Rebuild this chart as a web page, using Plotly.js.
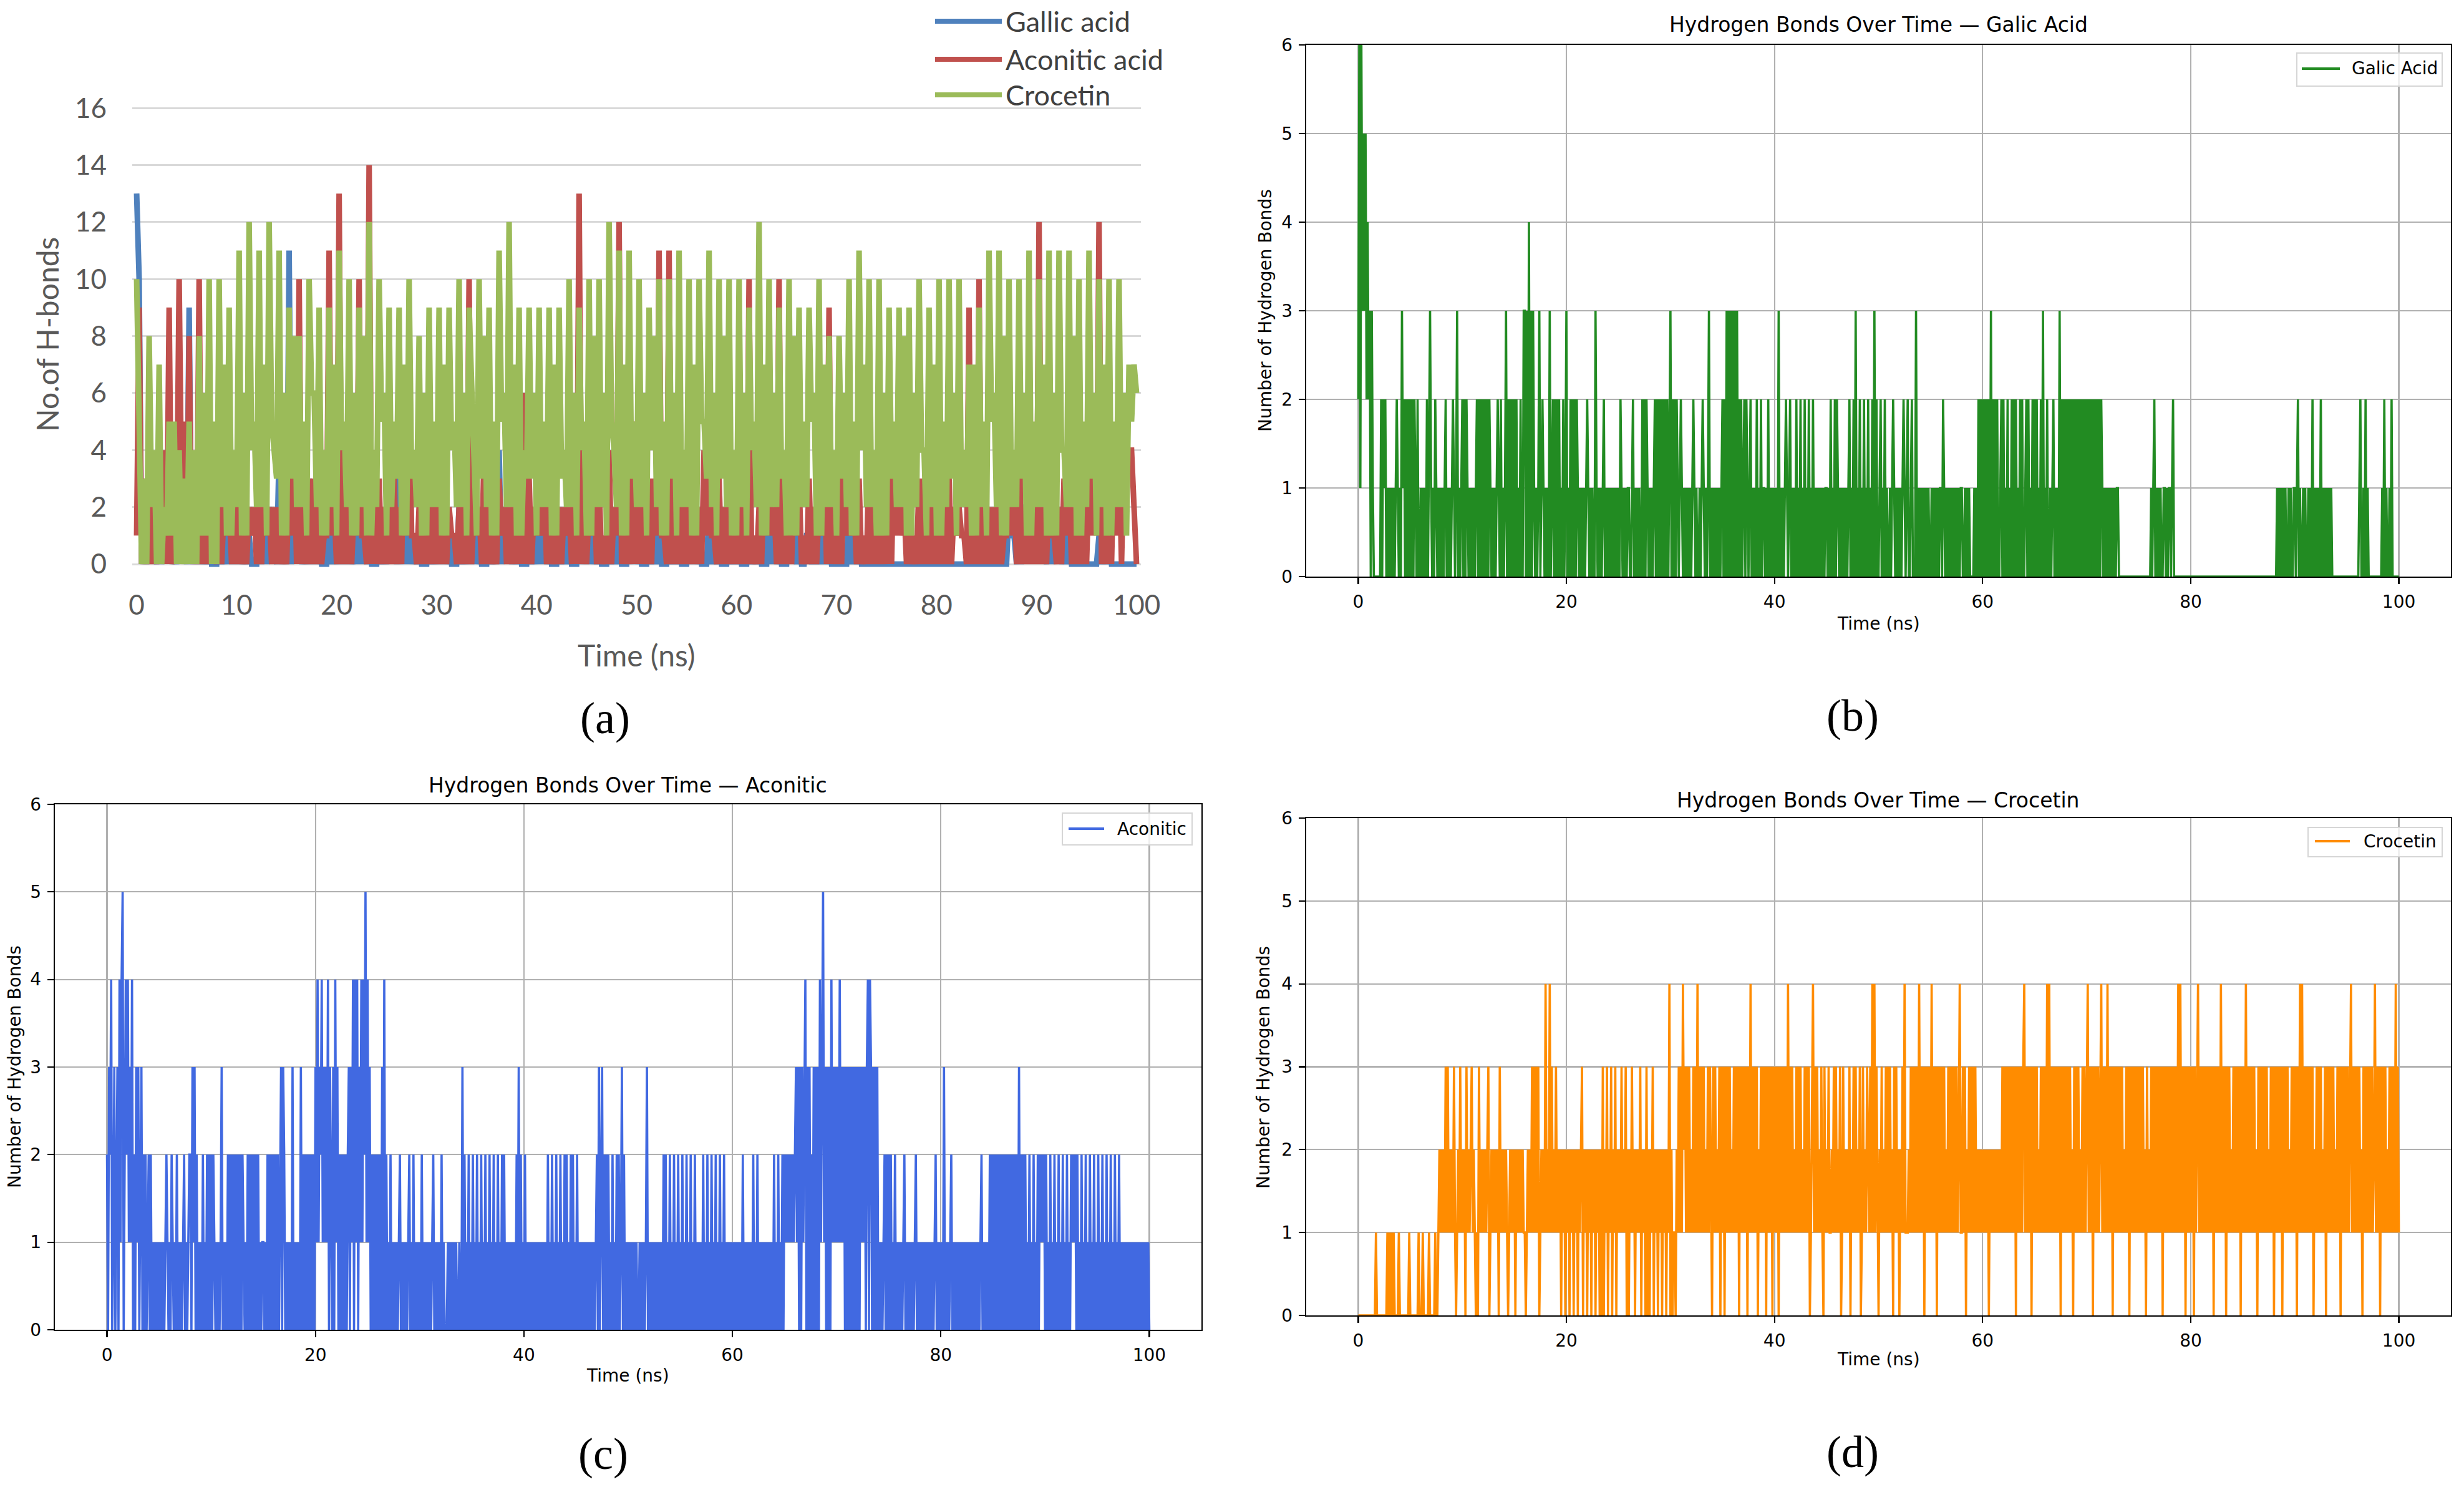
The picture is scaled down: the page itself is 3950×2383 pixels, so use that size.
<!DOCTYPE html>
<html><head><meta charset="utf-8">
<script src="https://cdn.plot.ly/plotly-3.0.1.min.js"></script>
<style>html,body{margin:0;padding:0;background:#fff}</style>
</head><body>
<div id="chart" style="width:3950px;height:2383px"></div>
<script>
// ---------------- DATA ----------------
// Panel (a): Excel line chart. Per ns k: peak at k+0.25, low at k+0.5, mid at k+0.75, trough at k+1
const aTickLabels = [0,10,20,30,40,50,60,70,80,90,100];
const aYTicks = [0,2,4,6,8,10,12,14,16];

const aGallicStart = 13;
const aGallicPeaks = [10,3,2,4,2,9,3,1,2,3, 2,1,3,2,4,11,2,3,1,2, 3,2,4,1,2,3,5,2,1,2, 3,1,2,3,1,2,4,2,1,2, 3,1,2,1,3,2,1,2,1,3, 1,2,1,2,1,3,1,2,1,2, 1,2,1,3,1,2,1,1,2,1, 1,2,1,0,0,0,0,0,0,0, 0,0,0,0,0,0,0,2,2,4, 2,2,2,1,0,0,1,1,0,0];
const aGallicLows = [0,1,0,0,1,0,0,0,0,0, 0,0,0,1,0,0,0,0,0,0, 0,0,0,0,0,1,0,0,0,0, 0,0,0,0,0,0,0,0,0,0, 0,0,0,0,0,0,0,0,0,0, 0,0,0,0,0,0,0,0,0,0, 0,0,0,0,0,1,0,0,0,0, 0,0,0,0,0,0,0,0,0,0, 0,0,0,0,0,0,0,1,0,2, 1,0,0,0,0,0,0,0,0,0];
const aGallicMids = [2,1,2,1,2,3,1,0,1,2, 1,0,2,1,2,3,1,2,0,1, 2,1,2,0,1,2,3,1,0,1, 2,0,1,2,0,1,2,1,0,1, 2,0,1,0,2,1,0,1,0,2, 0,1,0,1,0,2,0,1,0,1, 0,1,0,2,0,1,0,1,1,0, 0,1,0,0,0,0,0,0,0,0, 0,0,0,0,0,0,0,1,2,2, 1,2,1,0,0,0,1,0,0,0];
const aGallicTroughs = [0,0,1,0,0,0,0,0,0,0, 0,0,0,0,0,1,0,0,0,0, 0,0,0,0,0,0,0,0,0,0, 0,0,0,0,0,0,1,0,0,0, 0,0,0,0,0,0,0,0,0,0, 0,0,0,0,0,0,0,0,0,0, 0,0,0,0,0,0,1,0,0,0, 0,0,0,0,0,0,0,0,0,0, 0,0,0,0,0,0,0,0,2,1, 0,1,0,0,0,0,0,0,0,0];

const aAconiticStart = 1;
const aAconiticPeaks = [9,4,3,9,10,8,10,3,6,2, 3,2,5,2,2,3,10,3,2,11, 13,2,10,14,3,2,2,7,2,2, 3,2,2,10,2,3,3,2,6,3, 2,3,2,2,13,2,3,4,12,3, 7,3,11,11,3,3,2,6,3,2, 3,10,2,3,10,2,3,3,2,9, 3,2,3,4,3,5,3,2,3,3, 2,3,2,9,10,2,3,3,6,2, 12,3,2,3,4,3,12,4,4,4];
const aAconiticLows = [0,0,1,0,2,0,0,1,0,0, 0,1,0,0,0,1,0,0,0,1, 0,0,1,0,0,0,0,1,0,0, 0,1,0,0,0,0,1,0,0,0, 1,0,0,0,0,1,0,0,0,0, 0,0,1,0,0,0,0,1,0,0, 0,0,0,1,0,0,0,0,1,0, 0,1,0,0,0,0,1,0,0,0, 0,0,1,0,0,0,0,1,0,0, 0,1,0,0,0,1,0,0,0,4];
const aAconiticMids = [3,2,4,1,5,2,3,1,2,3, 1,2,3,2,1,4,2,3,1,2, 3,2,1,4,2,3,5,1,2,3, 2,1,3,2,4,1,2,3,6,2, 3,1,2,4,2,3,1,2,3,5, 2,3,1,2,3,2,4,1,2,3, 2,1,3,2,2,3,1,2,4,2, 3,2,1,3,2,4,2,1,3,2, 3,2,1,2,3,2,1,3,2,3, 2,1,3,2,3,4,2,4,4,2];
const aAconiticTroughs = [0,0,0,1,0,0,0,0,1,0, 0,0,1,0,0,0,0,0,1,0, 0,1,0,0,0,0,1,0,0,0, 0,0,0,1,0,0,0,0,0,1, 0,0,1,0,0,0,0,1,0,0, 0,1,0,0,0,0,1,0,0,0, 0,0,1,0,0,1,0,0,0,0, 1,0,0,0,0,1,0,0,0,0, 0,1,0,0,0,0,1,0,0,0, 0,0,1,0,0,1,0,1,4,0];

const aCrocetinStart = 10;
const aCrocetinPeaks = [6,8,7,5,4,5,8,10,10,9, 11,12,11,12,11,9,8,10,9,9, 11,10,9,12,10,9,9,10,8,9, 9,9,10,9,10,9,11,12,9,9, 9,9,9,10,9,10,10,12,11,11, 10,9,10,10,11,10,10,11,10,10, 10,9,12,10,9,10,9,9,10,8, 8,10,11,10,10,9,9,9,10,9, 10,10,10,7,9,11,11,10,10,11, 10,11,11,11,10,11,10,10,10,7];
const aCrocetinLows = [0,2,0,1,0,0,1,0,2,1, 1,4,2,5,1,3,2,6,1,2, 4,1,2,1,5,2,1,3,1,2, 1,4,2,6,3,1,5,2,1,3, 2,1,3,2,4,1,2,5,1,3, 2,4,1,3,2,1,5,2,3,1, 2,4,1,2,3,1,2,5,1,2, 3,1,4,2,1,3,2,1,4,2, 1,3,2,1,2,5,1,2,3,1, 2,1,4,2,1,3,2,1,2,5];
const aCrocetinMids = [3,4,2,5,3,4,6,5,7,4, 6,5,7,4,6,8,5,6,4,7, 5,6,8,4,6,5,7,4,6,5, 7,5,6,4,8,5,6,7,4,6, 5,7,4,6,5,8,6,4,7,5, 6,8,5,6,4,7,5,6,8,4, 6,5,7,6,4,8,5,6,7,4, 6,5,7,4,6,5,8,6,4,7, 5,6,4,7,5,6,8,4,6,5, 7,6,4,8,5,6,7,5,6,7];
const aCrocetinTroughs = [0,0,1,0,0,0,1,0,1,2, 1,2,1,3,1,2,1,2,1,1, 2,1,1,2,1,3,1,2,1,2, 1,2,1,1,2,1,2,1,3,1, 2,1,2,1,1,2,1,2,1,2, 1,2,1,1,2,1,3,1,2,1, 1,2,1,2,1,1,2,1,2,1, 2,1,2,1,1,2,1,2,1,1, 2,1,2,1,1,2,1,2,1,2, 1,1,2,1,2,1,1,2,1,6];

// Panels (b)-(d): H-bond counts every 0.1 ns, one digit per frame, one string per 10 ns
const mplXTicks = [0,20,40,60,80,100];
const mplYTicks = [0,1,2,3,4,5,6];
const galicRows = [
"2616353524 2303100000 0020212010 1010101210 1031202020 2020210200 1010102023 1010210101 0101201010 1210130101",
"2020210101 0101202020 2020202101 0101210201 0130202020 2020102003 3030403031 0101301210 1010301202 0202010201",
"3010202020 2101010101 2101010031 0101012010 1010101010 1021010101 1001201010 1002020210 1010120202 0202020202",
"3020202101 2101010101 0121010010 1210101301 0101010101 2020303030 3030302020 1202101201 0102010201 1010201010",
"1010301010 1210120101 0201020102 0102010201 0101010101 1010201020 2101010101 0120102030 1020102010 2010203020",
"0120102010 0101210101 0101210120 0120003010 1010101010 0101010101 1021010101 0101010101 1001010100 0010102020",
"2020202030 2020200120 2010201020 2020102020 0120201020 2020102030 1020010120 1010302020 2020202020 2020202020",
"2020202020 2020210101 0101010101 1000000000 0000000000 0000000000 0010120101 0100110101 1012000000 0000000000",
"0000000000 0000000000 0000000000 0000000000 0000000000 0000000000 0000000000 0000000000 0001010101 0100101001",
"1012010010 1001010201 0101020101 0101010000 0000000000 0000000000 0012001020 1000000000 0000102010 0102000000",
"0"];
const aconiticRows = [
"2032401302 3041450242 4131402031 3023020201 2020101010 1010101210 1021010201 0101201012 2031302010 1020102020",
"2021010101 3010102020 2020202020 2101020202 0202020101 1010202020 2020202303 2010101030 1010103020 2020202020",
"3141324131 3140310304 1302020202 0230314041 4031414251 4130202020 2020304020 1020101010 1201010101 2010201010",
"1020101010 1012010101 0201000101 0101010010 0302010201 0201020102 0102010201 0201020102 0201010101 0102030201",
"0201010101 0101010101 0102010201 0201020102 0201020201 0201010101 0101010101 2030230202 0201020102 0201302010",
"1010101010 0101010130 1010101010 1010202010 2010201020 1020102010 2010201010 1020102010 2010201020 1020101010",
"1010101010 2010101010 2010201010 1010101010 2010201020 2121212121 2313030313 4030302030 3030413513 0303041313",
"1314131303 0303030303 0303131303 4043030303 0101012020 2020102010 1010120101 0101012010 1010101010 1010120101",
"0103010101 2010101010 1010101010 1010101012 0101010202 0202020202 0202020202 0202030202 0201020102 0102021212",
"0201020102 0102010201 0201021212 0201020102 0102010201 0201020102 0102010201 0201010101 0101010101 0101010101",
"0"];
const crocetinRows = [
"0000000000 0000000100 0000000010 1010100001 0000000001 0000000010 0010000010 0000100121 2121313121 2131012131",
"2120312123 1210103121 2121230121 2121203121 2121012121 2021212121 1012121313 1313012121 4121413121 3121202120",
"2120212021 2021230212 0212021202 1202030213 0213021302 1213121302 0213120212 1302120302 0213021202 1202120214",
"0201102131 3142313131 2131314131 3131213131 0313121303 1303131312 1313130313 1313031413 1313021313 1303131303",
"1313031313 1314131312 1313131213 1313013413 1312131031 2131121313 1213013121 2130213131 2130131213 2131414131",
"0213121313 1312031312 0213141112 1313131314 1313031313 1413130313 1313121313 1313131241 1313021313 1313121212",
"1212120212 1212121213 1313131313 1303131313 4131313031 3131213131 3141413131 3131303131 3131312031 3131213131",
"3413130313 1313413131 4131303131 3131312131 3031313131 3131312031 2131313131 3130313131 3131313141 4131303131",
"3130313413 1313131313 1303131314 1313031312 1313131303 1314131313 1312031313 1313121313 0313131303 1313121313",
"1303141413 1313131302 1313131213 0313131312 1313031313 1313413131 3131203131 3131312413 1303131312 1313131413",
"1"];

// ---------------- BUILD ----------------
const W = 3950, H = 2383;
const px = x => x / W, py = y => 1 - y / H;

function buildA(start, peaks, lows, mids, troughs) {
  const x = [0], y = [start];
  for (let k = 0; k < peaks.length; k++) {
    x.push(k + 0.25); y.push(peaks[k]);
    x.push(k + 0.5); y.push(lows[k]);
    x.push(k + 0.75); y.push(mids[k]);
    x.push(k + 1); y.push(troughs[k]);
  }
  return {x, y};
}
function parseRows(rows) {
  const s = rows.join('').replace(/\s+/g, '');
  const y = Array.from(s, c => +c);
  const x = y.map((_, i) => i / 10);
  return {x, y};
}

const aG = buildA(aGallicStart, aGallicPeaks, aGallicLows, aGallicMids, aGallicTroughs);
const aA = buildA(aAconiticStart, aAconiticPeaks, aAconiticLows, aAconiticMids, aAconiticTroughs);
const aC = buildA(aCrocetinStart, aCrocetinPeaks, aCrocetinLows, aCrocetinMids, aCrocetinTroughs);
const bD = parseRows(galicRows);
const cD = parseRows(aconiticRows);
const dD = parseRows(crocetinRows);

const XL_BLUE = '#4F81BD', XL_RED = '#C0504D', XL_GREEN = '#9BBB59';
const XLW = 9;
const traces = [
  {x: aG.x, y: aG.y, xaxis: 'x', yaxis: 'y', mode: 'lines', line: {color: XL_BLUE, width: XLW}, hoverinfo: 'skip'},
  {x: aA.x, y: aA.y, xaxis: 'x', yaxis: 'y', mode: 'lines', line: {color: XL_RED, width: XLW}, hoverinfo: 'skip'},
  {x: aC.x, y: aC.y, xaxis: 'x', yaxis: 'y', mode: 'lines', line: {color: XL_GREEN, width: XLW}, hoverinfo: 'skip'},
  {x: bD.x, y: bD.y, xaxis: 'x2', yaxis: 'y2', mode: 'lines', line: {color: '#228B22', width: 3.6}, hoverinfo: 'skip'},
  {x: cD.x, y: cD.y, xaxis: 'x3', yaxis: 'y3', mode: 'lines', line: {color: '#4169E1', width: 3.6}, hoverinfo: 'skip'},
  {x: dD.x, y: dD.y, xaxis: 'x4', yaxis: 'y4', mode: 'lines', line: {color: '#FF8C00', width: 3.6}, hoverinfo: 'skip'}
];

const mplFont = {family: 'DejaVu Sans', size: 28, color: '#000'};
function mplX(l, r, anchor) {
  return {domain: [px(l), px(r)], anchor, range: [-5, 105], tickvals: mplXTicks, ticktext: mplXTicks.map(String),
    ticks: 'outside', ticklen: 10, tickwidth: 2.2, tickcolor: '#000', showline: true, linecolor: '#000', linewidth: 2.2,
    mirror: true, showgrid: true, gridcolor: '#b0b0b0', gridwidth: 2.2, zeroline: false, tickfont: mplFont, ticklabelstandoff: 4};
}
function mplY(top, bottom, anchor) {
  return {domain: [py(bottom), py(top)], anchor, range: [0, 6], tickvals: mplYTicks, ticktext: mplYTicks.map(String),
    ticks: 'outside', ticklen: 10, tickwidth: 2.2, tickcolor: '#000', showline: true, linecolor: '#000', linewidth: 2.2,
    mirror: true, showgrid: true, gridcolor: '#b0b0b0', gridwidth: 2.2, zeroline: false, tickfont: mplFont, ticklabelstandoff: 4};
}

const xlFont = {family: 'Lato', size: 44, color: '#595959'};
const layout = {
  width: W, height: H, margin: {l: 0, r: 0, t: 0, b: 0}, paper_bgcolor: '#fff', plot_bgcolor: 'rgba(0,0,0,0)',
  showlegend: false, hovermode: false,
  xaxis: {domain: [px(212), px(1829)], anchor: 'y', range: [-0.44, 100.44], tickvals: aTickLabels, ticktext: aTickLabels.map(String),
    showgrid: false, zeroline: false, showline: false, ticks: '', tickfont: xlFont, ticklabelstandoff: 22},
  yaxis: {domain: [py(917.7), py(164)], anchor: 'x', range: [-0.3, 16.2], tickvals: aYTicks, ticktext: aYTicks.map(String),
    showgrid: true, gridcolor: '#D9D9D9', gridwidth: 3, zeroline: false, showline: false, ticks: '', tickfont: xlFont, ticklabelstandoff: 40},
  xaxis2: mplX(2094, 3929, 'y2'), yaxis2: mplY(72, 924, 'x2'),
  xaxis3: mplX(88, 1926, 'y3'), yaxis3: mplY(1289, 2131, 'x3'),
  xaxis4: mplX(2094, 3929, 'y4'), yaxis4: mplY(1311, 2108, 'x4'),
  shapes: [], annotations: []
};

function txt(text, x, y, font, extra) {
  return Object.assign({text, x: px(x), y: py(y), xref: 'paper', yref: 'paper', showarrow: false,
    xanchor: 'center', yanchor: 'middle', font}, extra || {});
}
const serif = {family: 'Liberation Serif', size: 72, color: '#000'};
const titleF = {family: 'DejaVu Sans', size: 33, color: '#000'};
const xlTitle = {family: 'Lato', size: 48, color: '#595959'};

// panel (a) texts and legend
layout.annotations.push(txt('No.of H-bonds', 76, 536, xlTitle, {textangle: -90}));
layout.annotations.push(txt('Time (ns)', 1020, 1050, xlTitle));
layout.annotations.push(txt('(a)', 970, 1151, serif));
[['Gallic acid', XL_BLUE, 34], ['Aconitic acid', XL_RED, 95], ['Crocetin', XL_GREEN, 152]].forEach(([t, c, yy]) => {
  layout.shapes.push({type: 'line', xref: 'paper', yref: 'paper', x0: px(1499), x1: px(1606), y0: py(yy), y1: py(yy), line: {color: c, width: 8}});
  layout.annotations.push(txt(t, 1610, yy, {family: 'Lato', size: 45, color: '#404040'}, {xanchor: 'left'}));
});

// matplotlib panels
function mplPanel(title, tx, ty, xtY, ytX, ytY, lab, labX, labY, legName, legColor, box, lineX0, lineX1, legY, textX) {
  layout.annotations.push(txt(title, tx, ty, titleF));
  layout.annotations.push(txt('Time (ns)', tx, xtY, mplFont));
  layout.annotations.push(txt('Number of Hydrogen Bonds', ytX, ytY, mplFont, {textangle: -90}));
  layout.annotations.push(txt(lab, labX, labY, serif));
  layout.shapes.push({type: 'rect', xref: 'paper', yref: 'paper', x0: px(box[0]), x1: px(box[2]), y0: py(box[1]), y1: py(box[3]),
    line: {color: '#d6d6d6', width: 2}, fillcolor: 'rgba(255,255,255,0.8)', layer: 'above'});
  layout.shapes.push({type: 'line', xref: 'paper', yref: 'paper', x0: px(lineX0), x1: px(lineX1), y0: py(legY), y1: py(legY),
    line: {color: legColor, width: 4}, layer: 'above'});
  layout.annotations.push(txt(legName, textX, legY, mplFont, {xanchor: 'left'}));
}
mplPanel('Hydrogen Bonds Over Time — Galic Acid', 3011, 40, 999, 2028, 498, '(b)', 2970, 1147,
  'Galic Acid', '#228B22', [3682, 85, 3915, 138], 3690, 3751, 110, 3768);
mplPanel('Hydrogen Bonds Over Time — Aconitic', 1007, 1258, 2204, 23, 1710, '(c)', 967, 2330,
  'Aconitic', '#4169E1', [1703, 1303, 1911, 1354], 1713, 1770, 1328, 1789);
mplPanel('Hydrogen Bonds Over Time — Crocetin', 3011, 1282, 2178, 2025, 1710, '(d)', 2970, 2327,
  'Crocetin', '#FF8C00', [3700, 1326, 3915, 1373], 3711, 3767, 1348, 3787);

Plotly.newPlot('chart', traces, layout, {staticPlot: true, displayModeBar: false});
</script>
</body></html>
